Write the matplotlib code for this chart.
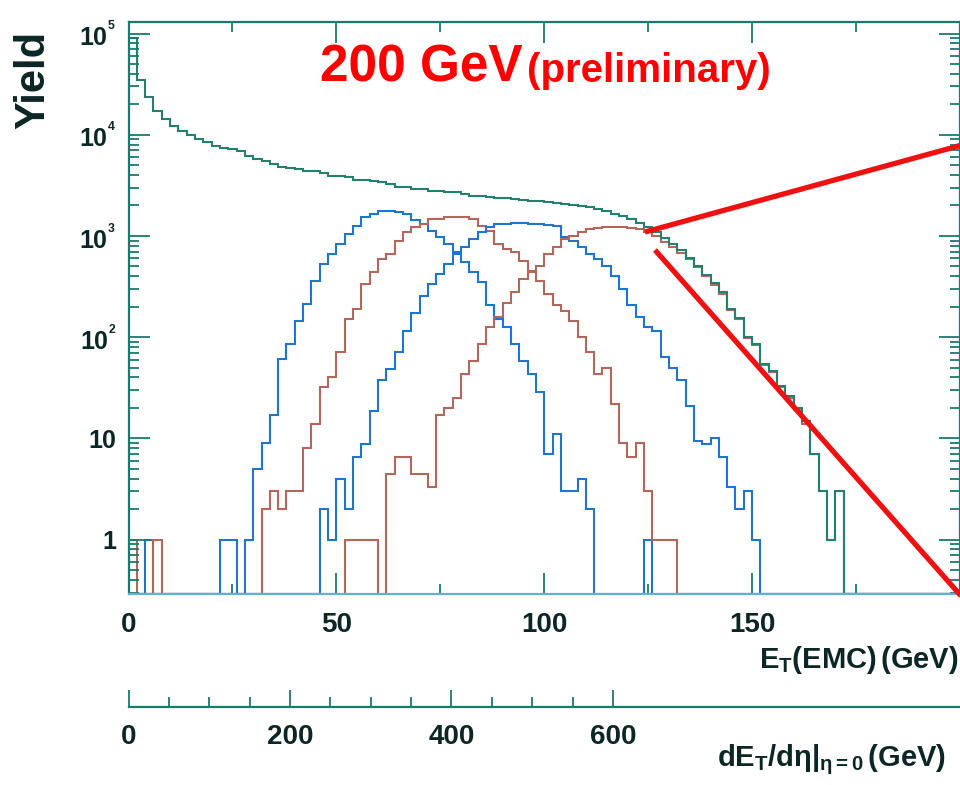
import numpy as np
import matplotlib
matplotlib.use("Agg")
import matplotlib.pyplot as plt
from matplotlib.lines import Line2D
from matplotlib.ticker import FixedLocator, FixedFormatter, NullFormatter

plt.rcParams['font.family'] = ['Liberation Sans', 'DejaVu Sans']
plt.rcParams['font.weight'] = 'bold'
plt.rcParams['mathtext.fontset'] = 'custom'
plt.rcParams['mathtext.rm'] = 'Liberation Sans:bold'
plt.rcParams['mathtext.bf'] = 'Liberation Sans:bold'
plt.rcParams['mathtext.it'] = 'Liberation Sans:bold'
plt.rcParams['mathtext.default'] = 'bf'

# 2 GeV bins, E_T(EMC) from 0 to 200 GeV
bin_edges = np.arange(0, 202, 2)

# min. bias spectrum
total = [
    90000, 35000, 23800, 17300, 14400, 12300, 10900, 9970, 9130, 8500,
    7770, 7430, 7250, 6920, 6200, 5780, 5520, 5160, 4820, 4700,
    4610, 4400, 4350, 4200, 3930, 3900, 3840, 3580, 3560, 3500,
    3430, 3270, 3050, 3050, 2920, 2900, 2790, 2780, 2720, 2700,
    2600, 2490, 2480, 2420, 2380, 2350, 2300, 2260, 2220, 2200,
    2170, 2130, 2080, 2030, 1980, 1920, 1850, 1750, 1650, 1560,
    1470, 1350, 1230, 1100, 950, 840, 720, 610, 500, 410,
    345, 280, 190, 155, 100, 85, 54, 46, 33, 26,
    20, 15, 7, 3, 1, 3, 0, 0, 0, 0,
    0, 0, 0, 0, 0, 0, 0, 0, 0, 0,
]

# centrality classes (blue / red alternating)
blue_a = [
    0, 0, 1, 0, 0, 0, 0, 0, 0, 0,
    0, 1, 1, 0, 1, 5, 9, 17, 61, 85,
    145, 213, 358, 530, 660, 830, 1050, 1250, 1540, 1650,
    1770, 1770, 1730, 1650, 1450, 1300, 1120, 975, 830, 690,
    550, 440, 350, 210, 150, 125, 85, 58, 43, 29,
    7, 11, 3, 3, 4, 2, 0, 0, 0, 0,
    0, 0, 1, 0, 0, 0, 0, 0, 0, 0,
    0, 0, 0, 0, 0, 0, 0, 0, 0, 0,
    0, 0, 0, 0, 0, 0, 0, 0, 0, 0,
    0, 0, 0, 0, 0, 0, 0, 0, 0, 0,
]

red_b = [
    1, 0, 0, 1, 0, 0, 0, 0, 0, 0,
    0, 0, 0, 0, 0, 0, 2, 3, 2, 3,
    3, 8, 14, 32, 40, 72, 150, 190, 335, 440,
    590, 660, 890, 1090, 1230, 1300, 1480, 1480, 1540, 1540,
    1540, 1480, 1250, 1120, 830, 750, 690, 560, 450, 360,
    265, 210, 180, 143, 100, 71, 43, 50, 22, 9,
    6.5, 9, 3, 1, 1, 1, 0, 0, 0, 0,
    0, 0, 0, 0, 0, 0, 0, 0, 0, 0,
    0, 0, 0, 0, 0, 0, 0, 0, 0, 0,
    0, 0, 0, 0, 0, 0, 0, 0, 0, 0,
]

blue_c = [
    0, 0, 0, 0, 0, 0, 0, 0, 0, 0,
    0, 0, 0, 0, 0, 0, 0, 0, 0, 0,
    0, 0, 0, 2, 1, 4, 2, 6.5, 8.7, 18.5,
    38, 48, 72, 115, 175, 255, 335, 420, 530, 660,
    780, 935, 1090, 1230, 1320, 1320, 1330, 1330, 1320, 1300,
    1290, 1250, 975, 890, 780, 660, 590, 510, 400, 300,
    210, 160, 125, 115, 63, 50, 38, 21, 9.4, 8.7,
    10, 6.6, 3.3, 2, 3, 1, 0, 0, 0, 0,
    0, 0, 0, 0, 0, 0, 0, 0, 0, 0,
    0, 0, 0, 0, 0, 0, 0, 0, 0, 0,
]

red_d = [
    0, 0, 0, 0, 0, 0, 0, 0, 0, 0,
    0, 0, 0, 0, 0, 0, 0, 0, 0, 0,
    0, 0, 0, 0, 0, 0, 1, 1, 1, 1,
    0, 4.4, 6.5, 6.5, 4.4, 4.4, 3.3, 17, 20, 25,
    43, 58, 85, 125, 160, 220, 280, 375, 440, 500,
    660, 780, 935, 1000, 1090, 1160, 1200, 1230, 1230, 1230,
    1200, 1160, 1100, 1000, 870, 780, 680, 590, 490, 400,
    330, 270, 185, 150, 98, 83, 53, 45, 32, 25,
    19, 14, 7, 3, 1, 3, 0, 0, 0, 0,
    0, 0, 0, 0, 0, 0, 0, 0, 0, 0,
]

y_floor = 0.29
y_top = 1.3e5
et_to_dedeta = 5.15   # dE_T/deta|eta=0 per GeV of E_T(EMC)

frame_col = '#1b7a6e'
label_col = '#0c2626'
teal = '#23806f'
blue = '#1f74cc'
brick = '#b2675d'

fig = plt.figure(figsize=(9.6, 7.85), dpi=100)
ax = fig.add_axes([128.5 / 960, 1 - 594 / 785, 831.5 / 960, 572 / 785])

for vals, col in [(blue_a, blue), (red_b, brick), (blue_c, blue), (red_d, brick), (total, teal)]:
    v = np.maximum(np.array(vals, dtype=float), y_floor)
    ax.stairs(v, bin_edges, baseline=None, color=col, lw=1.5)

ax.set_yscale('log')
ax.set_xlim(0, 200)
ax.set_ylim(y_floor, y_top)

for s in ax.spines.values():
    s.set_color(frame_col)
    s.set_linewidth(1.6)
ax.spines['bottom'].set_color('#5fb3cf')

ax.xaxis.set_major_locator(FixedLocator([0, 50, 100, 150]))
ax.xaxis.set_minor_locator(FixedLocator([25, 75, 125, 175]))
decades = [1, 10, 100, 1e3, 1e4, 1e5]
ax.yaxis.set_major_locator(FixedLocator(decades))
ax.yaxis.set_major_formatter(FixedFormatter(
    ['1', '10', r'$10^{{}^{2}}$', r'$10^{{}^{3}}$', r'$10^{{}^{4}}$', r'$10^{{}^{5}}$']))
minors = [m * d for d in [0.1, 1, 10, 100, 1e3, 1e4] for m in range(2, 10)]
ax.yaxis.set_minor_locator(FixedLocator(minors))
ax.yaxis.set_minor_formatter(NullFormatter())

ax.tick_params(which='both', direction='in', top=True, right=True,
               color=frame_col, width=1.3, labelcolor=label_col)
ax.tick_params(which='major', length=15)
ax.tick_params(which='minor', length=7)
ax.tick_params(axis='x', which='major', labelsize=20, pad=13)
ax.tick_params(axis='y', which='major', labelsize=18, pad=9)

ax.set_ylabel('Yield', fontsize=30, fontweight='bold', color=label_col, va='center')
ax.yaxis.set_label_coords(-0.115, 0.899)
ax.set_xlabel(r'$E_{T}(EMC)\,(GeV)$', fontsize=21, color=label_col, ha='right', va='center')
ax.xaxis.set_label_coords(0.998, -0.115)

# second scale: dE_T/deta at midrapidity
sec = ax.secondary_xaxis(-0.1976, functions=(lambda e: e * et_to_dedeta,
                                             lambda d: d / et_to_dedeta))
sec.xaxis.set_major_locator(FixedLocator([0, 200, 400, 600]))
sec.xaxis.set_minor_locator(FixedLocator([50, 100, 150, 250, 300, 350, 450, 500, 550]))
sec.spines['bottom'].set_color(frame_col)
sec.spines['bottom'].set_linewidth(1.6)
sec.tick_params(which='both', direction='in', color=frame_col, width=1.3,
                labelcolor=label_col, labelsize=20, pad=12)
sec.tick_params(which='major', length=12)
sec.tick_params(which='minor', length=7)
sec.set_xlabel(r'$dE_{T}/d\eta|_{\eta=0}\,(GeV)$', fontsize=21, color=label_col)
sec.xaxis.set_label_coords(0.983, -0.29, transform=ax.transAxes)
sec.xaxis.label.set_ha('right')
sec.xaxis.label.set_va('center')

fig.text(320 / 960, 1 - 82 / 785, '200 GeV', color='#ff0000', fontsize=37,
         fontweight='bold', ha='left', va='baseline')
fig.text(527 / 960, 1 - 82 / 785, '(preliminary)', color='#ff0000', fontsize=29,
         fontweight='bold', ha='left', va='baseline')

# zoom lines towards the (not shown) right panel
for (x0, y0), (x1, y1) in [((645, 232), (962, 145)), ((655, 250), (962, 597))]:
    fig.add_artist(Line2D([x0 / 960, x1 / 960], [1 - y0 / 785, 1 - y1 / 785],
                          transform=fig.transFigure, color='#ee1111', lw=3.8,
                          solid_capstyle='butt'))

fig.savefig('out.png', dpi=100)
